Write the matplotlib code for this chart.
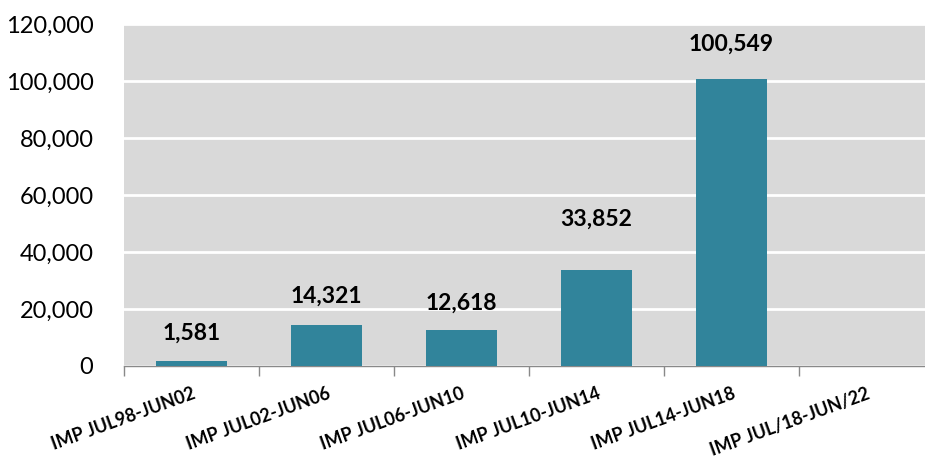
import numpy as np
import matplotlib.pyplot as plt
from matplotlib.ticker import FuncFormatter

plt.rcParams['font.family'] = ['Lato', 'DejaVu Sans']

# data
categories = ['IMP JUL98-JUN02', 'IMP JUL02-JUN06', 'IMP JUL06-JUN10',
              'IMP JUL10-JUN14', 'IMP JUL14-JUN18', 'IMP JUL/18-JUN/22']
values = [1581, 14321, 12618, 33852, 100549, np.nan]
yticks = [0, 20000, 40000, 60000, 80000, 100000, 120000]

# label offsets above bar top (pixels), as placed in the original
label_offsets = [28, 29, 27, 50, 35, 0]

bar_color = '#31849B'
bg_color = '#D9D9D9'

fig = plt.figure(figsize=(9.25, 4.62), dpi=100)
ax = fig.add_axes([124 / 925, 96 / 462, 810 / 925, 342 / 462])
ax.set_facecolor(bg_color)

x = np.arange(len(categories))
ax.bar(x, values, width=0.52, color=bar_color, zorder=3)

for xi, v, off in zip(x, values, label_offsets):
    if np.isnan(v):
        continue
    ax.annotate(f'{v:,.0f}', (xi, v), xytext=(0, off), textcoords='offset pixels',
                ha='center', va='center', fontsize=16.5, fontweight='bold', color='black')

ax.set_xlim(-0.5, len(categories) - 0.5)
ax.set_ylim(0, 120000)
ax.set_yticks(yticks)
ax.yaxis.set_major_formatter(FuncFormatter(lambda v, p: f'{v:,.0f}'))
ax.tick_params(axis='y', length=0, labelsize=17, pad=22)
ax.grid(axis='y', color='white', linewidth=2, zorder=1)
ax.set_axisbelow(True)

# category labels at centres, tick marks at boundaries
ax.set_xticks(x)
ax.set_xticklabels([])
for xi, lab in zip(x, categories):
    ax.annotate(lab, (xi, 0), xycoords=('data', 'axes fraction'),
                xytext=(0, -19), textcoords='offset pixels',
                rotation=20, ha='right', va='top', rotation_mode='anchor',
                fontsize=13, fontweight='bold', annotation_clip=False)
ax.tick_params(axis='x', which='major', length=0)
ax.set_xticks(np.arange(-0.5, len(categories)), minor=True)
ax.tick_params(axis='x', which='minor', length=7, color='#898989', width=1)

for s in ['top', 'right', 'left']:
    ax.spines[s].set_visible(False)
ax.spines['bottom'].set_color('#898989')
ax.spines['bottom'].set_linewidth(1)

fig.savefig('out.png', dpi=100)
